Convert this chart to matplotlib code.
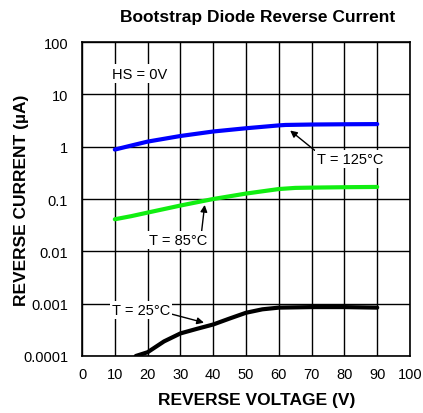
import matplotlib
matplotlib.use("Agg")
import matplotlib.pyplot as plt

plt.rcParams['font.family'] = ['Liberation Sans', 'DejaVu Sans']

# datos
v_125 = [10, 15, 20, 30, 40, 50, 60, 62, 70, 80, 90]
i_125 = [0.88, 1.05, 1.25, 1.6, 1.95, 2.25, 2.55, 2.6, 2.65, 2.68, 2.7]

v_85 = [10, 15, 20, 30, 40, 50, 60, 65, 70, 80, 90]
i_85 = [0.041, 0.047, 0.055, 0.075, 0.1, 0.127, 0.155, 0.163, 0.165, 0.168, 0.17]

v_25 = [16.4, 20, 25, 30, 35, 40, 45, 50, 55, 60, 70, 80, 90]
i_25 = [0.0001, 0.000118, 0.00019, 0.00027, 0.00033, 0.0004, 0.00052, 0.00067,
        0.00078, 0.00084, 0.00086, 0.00086, 0.00084]

x_ticks = [0, 10, 20, 30, 40, 50, 60, 70, 80, 90, 100]
y_ticks = [0.0001, 0.001, 0.01, 0.1, 1, 10, 100]
y_labels = ["0.0001", "0.001", "0.01", "0.1", "1", "10", "100"]

fig = plt.figure(figsize=(4.23, 4.14), dpi=100)
ax = fig.add_axes([0.1939, 0.1377, 0.9693 - 0.1939, 0.8961 - 0.1377])

ax.plot(v_125, i_125, color='#0000ff', lw=3, solid_capstyle='round', zorder=3)
ax.plot(v_85, i_85, color='#11ee11', lw=3, solid_capstyle='round', zorder=3)
ax.plot(v_25, i_25, color='black', lw=3, solid_capstyle='round', zorder=3)

ax.set_yscale('log')
ax.set_xlim(0, 100)
ax.set_ylim(0.0001, 100)
ax.set_xticks(x_ticks)
ax.set_xticklabels([str(t) for t in x_ticks], fontsize=10.5)
ax.set_yticks(y_ticks)
ax.set_yticklabels(y_labels, fontsize=10.5)
ax.minorticks_off()
ax.tick_params(axis='x', length=0, pad=8)
ax.tick_params(axis='y', length=0, pad=10)
ax.grid(True, color='black', lw=1)
for s in ax.spines.values():
    s.set_color('black')
    s.set_linewidth(1.2)

ax.set_xlabel("REVERSE VOLTAGE (V)", fontsize=12.5, fontweight='bold', labelpad=7.5)
ax.xaxis.label.set_x(0.534)
ax.set_ylabel("REVERSE CURRENT (µA)", fontsize=12.5, fontweight='bold', labelpad=-4)
ax.set_title("Bootstrap Diode Reverse Current", fontsize=12.5, fontweight='bold',
             pad=15, x=0.534)

caja = dict(facecolor='white', edgecolor='none', pad=1.5)

ax.text(9, 25, "HS = 0V", fontsize=10.5, ha='left', va='center', bbox=caja, zorder=4)

ax.annotate("T = 125°C", xy=(62.8, 2.2), xytext=(81.7, 0.58), fontsize=10.5,
            ha='center', va='center', bbox=caja, zorder=4,
            arrowprops=dict(arrowstyle='-|>', color='black', lw=1, mutation_scale=10,
                            relpos=(0, 1), shrinkA=0))
ax.annotate("T = 85°C", xy=(37.5, 0.087), xytext=(29.3, 0.0165), fontsize=10.5,
            ha='center', va='center', bbox=caja, zorder=4,
            arrowprops=dict(arrowstyle='-|>', color='black', lw=1, mutation_scale=10,
                            relpos=(0.9, 1), shrinkA=0))
ax.annotate("T = 25°C", xy=(38, 0.00042), xytext=(18, 0.00075), fontsize=10.5,
            ha='center', va='center', bbox=caja, zorder=4,
            arrowprops=dict(arrowstyle='-|>', color='black', lw=1, mutation_scale=10,
                            relpos=(1, 0.25), shrinkA=0))

fig.savefig("out.png", dpi=100)
